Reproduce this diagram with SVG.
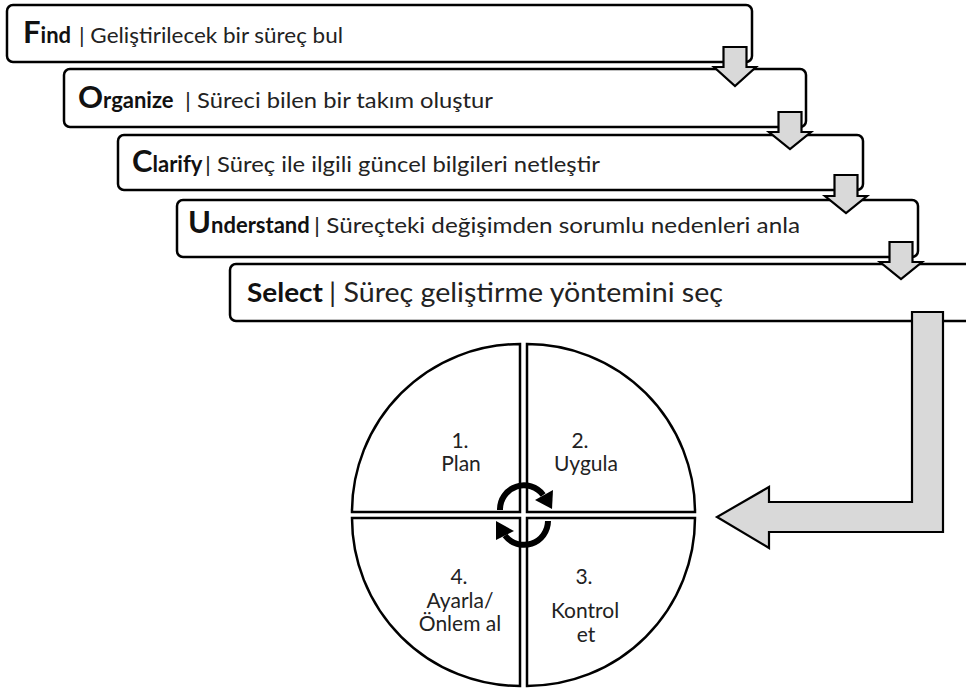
<svg xmlns="http://www.w3.org/2000/svg" width="966" height="693" viewBox="0 0 966 693">
<style>
.box{fill:#fff;stroke:#000;stroke-width:2.5}
.blk{fill:#d9d9d9;stroke:#000;stroke-width:2.2;stroke-linejoin:miter}
.big{font-family:Lato,"Open Sans",sans-serif;font-weight:700;font-size:31px;fill:#111}
.hd{font-family:Lato,"Open Sans",sans-serif;font-weight:700;font-size:22px;fill:#111}
.ds{font-family:Lato,"Open Sans",sans-serif;font-size:22px;fill:#222}
.sel{font-family:Lato,"Open Sans",sans-serif;font-weight:700;font-size:27px;fill:#111}
.sds{font-family:Lato,"Open Sans",sans-serif;font-size:27px;fill:#222}
.q{fill:#fff;stroke:#000;stroke-width:2.5}
.ql{font-family:Lato,"Open Sans",sans-serif;font-size:21px;fill:#222;text-anchor:middle}
.cyc{fill:none;stroke:#000;stroke-width:6}
</style>
<rect width="966" height="693" fill="#fff"/>
<g id="find">
<rect class="box" x="7" y="5" width="745" height="57" rx="6"/>
<text x="23" y="43"><tspan class="big">F</tspan><tspan class="hd">ind</tspan></text>
<text class="ds" x="79" y="43" textLength="264" lengthAdjust="spacingAndGlyphs">| Geliştirilecek bir süreç bul</text>
</g>
<g id="organize">
<rect class="box" x="64" y="69" width="742" height="58" rx="6"/>
<text x="78" y="108"><tspan class="big">O</tspan><tspan class="hd">rganize</tspan></text>
<text class="ds" x="185" y="108" textLength="308" lengthAdjust="spacingAndGlyphs">| Süreci bilen bir takım oluştur</text>
</g>
<g id="clarify">
<rect class="box" x="118" y="135" width="745" height="55" rx="6"/>
<text x="132" y="172"><tspan class="big">C</tspan><tspan class="hd">larify</tspan></text>
<text class="ds" x="205" y="172" textLength="395" lengthAdjust="spacingAndGlyphs">| Süreç ile ilgili güncel bilgileri netleştir</text>
</g>
<g id="understand">
<rect class="box" x="177" y="200" width="741" height="57" rx="6"/>
<text x="188" y="233"><tspan class="big">U</tspan><tspan class="hd">nderstand</tspan></text>
<text class="ds" x="314" y="233" textLength="486" lengthAdjust="spacingAndGlyphs">| Süreçteki değişimden sorumlu nedenleri anla</text>
</g>
<g id="select">
<path class="box" d="M970,264 L236,264 A6,6 0 0 0 230,270 L230,315 A6,6 0 0 0 236,321 L970,321"/>
<text class="sel" x="247" y="302" textLength="76" lengthAdjust="spacingAndGlyphs">Select</text>
<text class="sds" x="329" y="302" textLength="394" lengthAdjust="spacingAndGlyphs">| Süreç geliştirme yöntemini seç</text>
</g>
<g id="pdca">
<g id="q1">
<path class="q" d="M520,512 L352,512 A168,168 0 0 1 520,344 Z"/>
<text class="ql" x="460" y="448">1.</text>
<text class="ql" x="461" y="471">Plan</text>
</g>
<g id="q2">
<path class="q" d="M527,512 L527,344 A168,168 0 0 1 695,512 Z"/>
<text class="ql" x="580" y="448">2.</text>
<text class="ql" x="586" y="471">Uygula</text>
</g>
<g id="q3">
<path class="q" d="M527,518 L695,518 A168,168 0 0 1 527,686 Z"/>
<text class="ql" x="584" y="584">3.</text>
<text class="ql" x="585" y="618">Kontrol</text>
<text class="ql" x="586" y="642">et</text>
</g>
<g id="q4">
<path class="q" d="M520,518 L520,686 A168,168 0 0 1 352,518 Z"/>
<text class="ql" x="459" y="584">4.</text>
<text class="ql" x="460" y="608">Ayarla/</text>
<text class="ql" x="460" y="631">Önlem al</text>
</g>
<g id="cycle">
<path class="cyc" d="M500,510 A24,24 0 0 1 543.2,495"/>
<polygon points="552,509 553,490 535,500" fill="#000"/>
<path class="cyc" d="M548,521 A24,24 0 0 1 505,535.5"/>
<polygon points="496,521 496,540 514,531" fill="#000"/>
</g>
</g>
<g id="connectors">
<polygon class="blk" points="723.5,47 746.5,47 746.5,67 756,67 735,86 714,67 723.5,67"/>
<polygon class="blk" points="778.5,112 801.5,112 801.5,132 811,132 790,149 769,132 778.5,132"/>
<polygon class="blk" points="834.5,175 857.5,175 857.5,196 867,196 846,213 825,196 834.5,196"/>
<polygon class="blk" points="889.5,242 912.5,242 912.5,262 922,262 901,279 880,262 889.5,262"/>
<polygon class="blk" points="912,312 943,312 943,532 769,532 769,548 717,517 769,487 769,502 912,502"/>
</g>
</svg>
